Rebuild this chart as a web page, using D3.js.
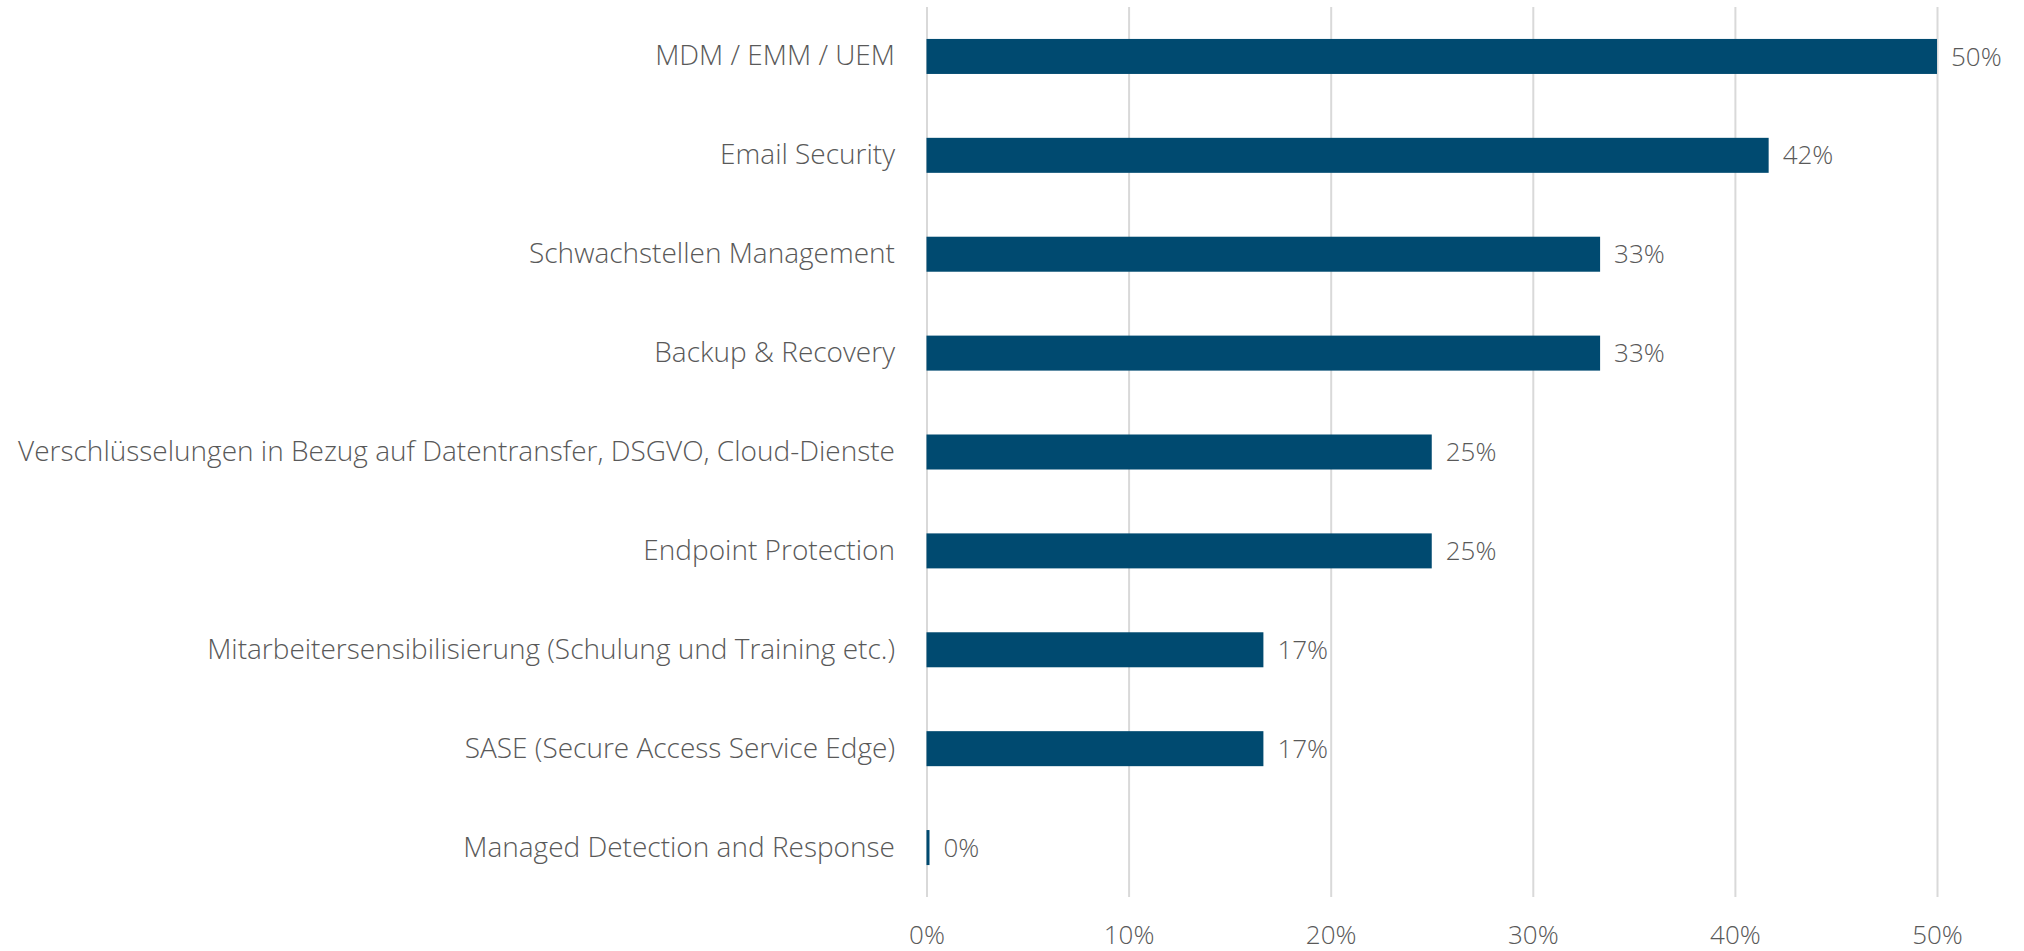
<!DOCTYPE html>
<html>
<head>
<meta charset="utf-8">
<script src="https://cdn.jsdelivr.net/npm/d3@7"></script>
<style>
html,body{margin:0;padding:0;background:#fff;}
svg{display:block;}
text{font-family:"Open Sans","Segoe UI",sans-serif;font-weight:300;fill:#595959;}
</style>
</head>
<body>
<svg id="chart" width="2024" height="951"></svg>
<script>
const categories = [
  "MDM / EMM / UEM",
  "Email Security",
  "Schwachstellen Management",
  "Backup & Recovery",
  "Verschlüsselungen in Bezug auf Datentransfer, DSGVO, Cloud-Dienste",
  "Endpoint Protection",
  "Mitarbeitersensibilisierung (Schulung und Training etc.)",
  "SASE (Secure Access Service Edge)",
  "Managed Detection and Response"
];
const values = [0.5, 0.4167, 0.3333, 0.3333, 0.25, 0.25, 0.1667, 0.1667, 0];
const tickValues = [0, 0.1, 0.2, 0.3, 0.4, 0.5];

const svg = d3.select("#chart");
const x = d3.scaleLinear().domain([0, 0.5]).range([926.5, 1937]);
const y = d3.scaleBand().domain(categories).range([7, 897]).paddingInner(0.646).paddingOuter(0.323);
const fmt = d3.format(".0%");

// gridlines
const xAxis = d3.axisBottom(x).tickValues(tickValues).tickFormat(fmt).tickSize(-(897 - 7)).tickPadding(29);
const gx = svg.append("g").attr("transform", "translate(0,897)").call(xAxis);
gx.select(".domain").remove();
gx.selectAll(".tick line").attr("stroke", "#D9D9D9").attr("stroke-width", 2);
gx.selectAll(".tick text").attr("font-size", 26).attr("fill", "#595959")
  .style("font-family", "'Open Sans',sans-serif").style("font-weight", 300);

// bars
svg.append("g").selectAll("rect").data(values).join("rect")
  .attr("x", x(0))
  .attr("y", (d, i) => y(categories[i]))
  .attr("width", d => Math.max(x(d) - x(0), 3))
  .attr("height", y.bandwidth())
  .attr("fill", "#004A70");

// value labels
svg.append("g").selectAll("text").data(values).join("text")
  .attr("x", d => Math.max(x(d), x(0) + 3) + 14)
  .attr("y", (d, i) => y(categories[i]) + y.bandwidth() / 2)
  .attr("dy", "0.35em")
  .attr("font-size", 26)
  .text(d => fmt(d));

// category labels
const yAxis = d3.axisLeft(y).tickSize(0).tickPadding(31.5);
const gy = svg.append("g").attr("transform", `translate(${x(0)},0)`).call(yAxis);
gy.select(".domain").remove();
gy.selectAll(".tick text").attr("font-size", 28).attr("fill", "#595959")
  .style("font-family", "'Open Sans',sans-serif").style("font-weight", 300);
</script>
</body>
</html>
